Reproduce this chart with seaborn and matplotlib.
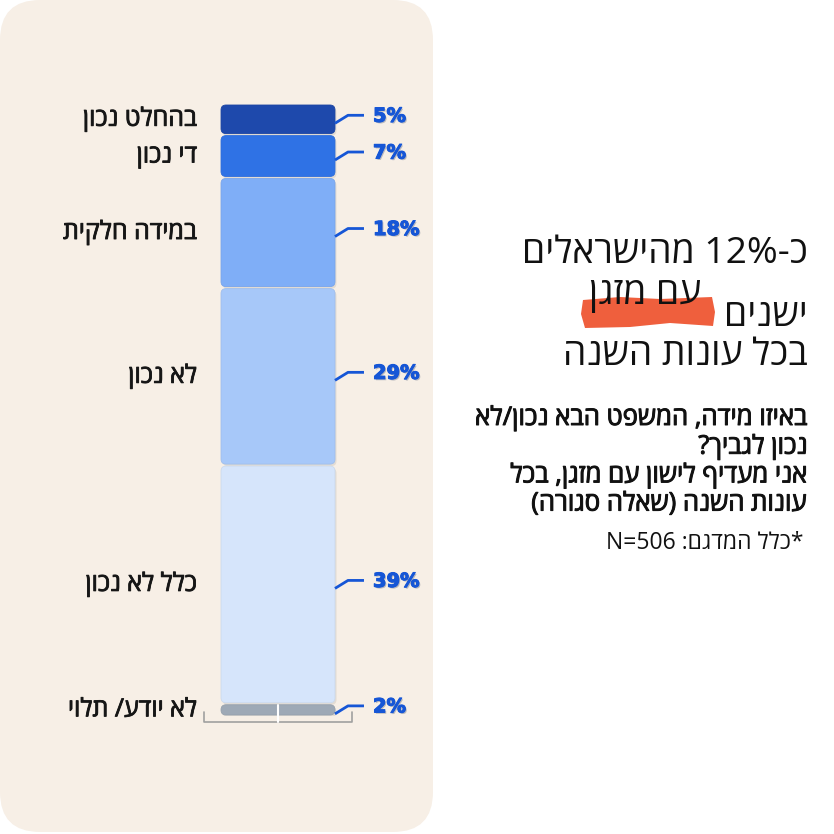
import re
import numpy as np
import pandas as pd
import seaborn as sns
import matplotlib
matplotlib.use("Agg")
import matplotlib.pyplot as plt
from matplotlib.patches import FancyBboxPatch, Polygon
import matplotlib.patheffects as pe
import matplotlib.colors as mcolors

# ---------------- data ----------------
categories = ["לא יודע/ תלוי", "כלל לא נכון", "לא נכון", "במידה חלקית", "די נכון", "בהחלט נכון"]
values = [2, 39, 29, 18, 7, 5]
pct_labels = ["2%", "39%", "29%", "18%", "7%", "5%"]
seg_colors = ["#9EA9B6", "#D6E5FB", "#A7C8F9", "#7FAEF7", "#2F72E5", "#1E49AC"]

title_line1 = "כ-12% מהישראלים"
title_highlight = "עם מזגן"
title_line3 = "ישנים"
title_line4 = "בכל עונות השנה"
question_lines = ["באיזו מידה, המשפט הבא נכון/לא",
                  "נכון לגביך?",
                  "אני מעדיף לישון עם מזגן, בכל",
                  "עונות השנה (שאלה סגורה)"]
footnote = "*כלל המדגם: N=506"

MIRROR = {"(": ")", ")": "(", "[": "]", "]": "["}


def vis(s):
    """Logical RTL string -> visual (left-to-right) order for matplotlib."""
    parts = re.findall(r"[A-Za-z0-9%=.]+|.", s)
    out = []
    for p in reversed(parts):
        if len(p) == 1 and (not p.isascii() or not p.isalnum()):
            out.append(MIRROR.get(p, p))
        else:
            out.append(p)
    return "".join(out)


sns.set_theme(style="white")
plt.rcParams["font.family"] = ["Open Sans", "DejaVu Sans"]

W = H = 834
fig = plt.figure(figsize=(W / 100, H / 100), dpi=100)
fig.patch.set_facecolor("white")


def fx(px):
    return px / W


def fy(py):
    return 1 - py / H


# beige panel (behind everything)
panel = FancyBboxPatch((fx(0), fy(832)), fx(433), 832 / H,
                       boxstyle=f"round,pad=0,rounding_size={40 / W}",
                       transform=fig.transFigure, facecolor="#F7EFE6",
                       edgecolor="none", zorder=-5)
fig.patches.append(panel)

# bar axes: x from 204 to 352 px, y from 716 (0) to 104 (100)
AX_L, AX_R, AX_T, AX_B = 204, 352, 104, 716
ax = fig.add_axes([fx(AX_L), fy(AX_B), (AX_R - AX_L) / W, (AX_B - AX_T) / H])
ax.patch.set_alpha(0)
ax.set_zorder(2)
PXX = 1.0 / (AX_R - AX_L)          # data x per pixel
PXY = 100.0 / (AX_B - AX_T)        # data y per pixel

bottoms = np.concatenate([[0], np.cumsum(values)[:-1]])
for v, b, c in zip(values, bottoms, seg_colors):
    sns.barplot(x=["all"], y=[v], bottom=b, color=c, saturation=1,
                width=0.77, errorbar=None, ax=ax)

ax.set_xlim(-0.5, 0.5)
ax.set_ylim(0, 100)


def darker(c, f=0.85):
    r, g, b, a = mcolors.to_rgba(c)
    return (r * f, g * f, b * f, a)


for p in list(ax.patches):
    x0, y0, w, h = p.get_x(), p.get_y(), p.get_width(), p.get_height()
    fc = p.get_facecolor()
    p.set_visible(False)
    gap = 1.0 * PXY
    shadow = FancyBboxPatch((x0 + 1.5 * PXX, y0 + gap - 2.0 * PXY), w, h - 2 * gap,
                            boxstyle=f"round,pad=0,rounding_size={5 * PXX}",
                            mutation_aspect=PXY / PXX, facecolor=(0, 0, 0, 0.08),
                            edgecolor="none", zorder=2)
    ax.add_patch(shadow)
    rb = FancyBboxPatch((x0, y0 + gap), w, h - 2 * gap,
                        boxstyle=f"round,pad=0,rounding_size={5 * PXX}",
                        mutation_aspect=PXY / PXX, facecolor=fc,
                        edgecolor=darker(fc, 0.95), lw=0.6, zorder=3)
    ax.add_patch(rb)

for s in ax.spines.values():
    s.set_visible(False)
ax.set_xticks([])
ax.set_yticks([])
ax.set_xlabel("")
ax.set_ylabel("")

# bottom bracket
yb = -6 * PXY
ax.plot([-0.5, -0.5, 0.5, 0.5], [yb + 10 * PXY, yb, yb, yb + 10 * PXY],
        color="#A0A0A0", lw=1.2, clip_on=False, zorder=4)
ax.plot([0, 0], [yb, yb + 17 * PXY], color="white", lw=1.5, clip_on=False, zorder=5)

bar_right = 0.385
blue = "#1656D6"
for v, b, cat, lab in zip(values, bottoms, categories, pct_labels):
    c = b + v / 2
    ax.plot([bar_right, bar_right + 13 * PXX, bar_right + 29 * PXX],
            [c - 4 * PXY, c + 4 * PXY, c + 4 * PXY],
            color=blue, lw=2, clip_on=False, zorder=4, solid_capstyle="butt")
    ax.text(-0.5 + (373 - AX_L) * PXX, c + 3 * PXY, lab, color=blue,
            fontsize=14, fontweight="bold", family=["DejaVu Sans"],
            ha="left", va="center", clip_on=False,
            path_effects=[pe.withSimplePatchShadow(offset=(1, -1), alpha=0.25),
                          pe.withStroke(linewidth=0.8, foreground=blue)])
    ax.text(-0.5 + (197 - AX_L) * PXX, c, vis(cat), color="#161616",
            fontsize=18, ha="right", va="center", clip_on=False,
            path_effects=[pe.withStroke(linewidth=0.6, foreground="#161616")])

# title block
RX = 808
TFS = 26.8
fig.text(fx(RX), fy(254), vis(title_line1), fontsize=TFS, ha="right", va="center", color="#111111")
hl = Polygon([(fx(583), fy(300)), (fx(620), fy(297)), (fx(660), fy(299)), (fx(712), fy(297)),
              (fx(715), fy(312)), (fx(713), fy(326)), (fx(670), fy(323)), (fx(630), fy(327)),
              (fx(585), fy(328)), (fx(581), fy(314))],
             closed=True, transform=fig.transFigure, facecolor="#EF5F3D",
             edgecolor="none", zorder=1)
fig.patches.append(hl)
fig.text(fx(645), fy(295), vis(title_highlight), fontsize=TFS, ha="center", va="center",
         color="#111111", zorder=3)
fig.text(fx(RX), fy(317), vis(title_line3), fontsize=TFS, ha="right", va="center", color="#111111")
fig.text(fx(RX), fy(356), vis(title_line4), fontsize=TFS, ha="right", va="center", color="#111111")

for i, line in enumerate(question_lines):
    fig.text(fx(RX), fy(418 + i * 28.7), vis(line), fontsize=18.5,
             ha="right", va="center", color="#111111",
             path_effects=[pe.withStroke(linewidth=0.7, foreground="#111111")])
fig.text(fx(804), fy(543), vis(footnote), fontsize=16.5, ha="right", va="center", color="#111111")

fig.savefig("out.png", dpi=100, facecolor="white")
